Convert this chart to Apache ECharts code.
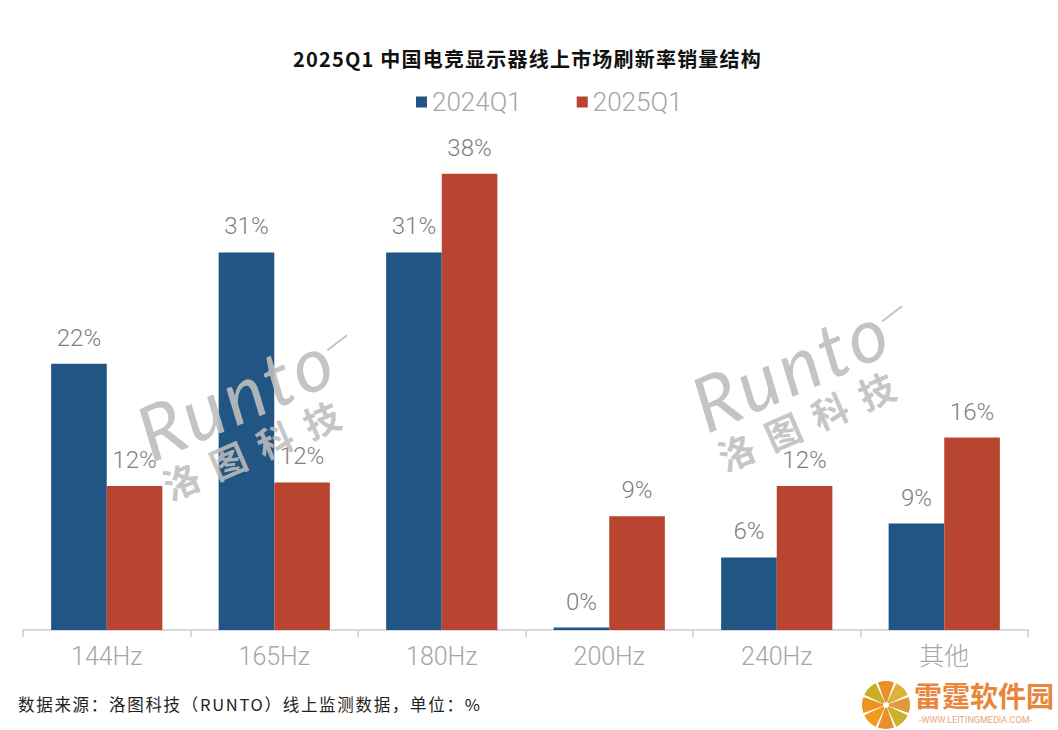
<!DOCTYPE html>
<html><head><meta charset="utf-8">
<style>html,body{margin:0;padding:0;background:#fff}#c{width:1058px;height:730px}</style>
<script src="https://cdn.jsdelivr.net/npm/echarts@6/dist/echarts.min.js"></script>
</head><body><div id="c"></div>
<script>
const categories = ['144Hz','165Hz','180Hz','200Hz','240Hz','其他'];
const series2024 = [22, 31.2, 31.2, 0.2, 6, 8.8];
const series2025 = [11.9, 12.2, 37.7, 9.4, 11.9, 15.9];
const titleText = '2025Q1 中国电竞显示器线上市场刷新率销量结构';
const sourceText = '数据来源\uFF1A洛图科技\uFF08RUNTO\uFF09线上监测数据\uFF0C单位\uFF1A%';
const cjk = '"Noto Sans CJK SC"';
const num = 'Roboto, "Noto Sans CJK SC"';
const wmColor = 'rgba(190,190,190,0.9)';

function watermark(x, y) {
  return {
    type: 'group', x: x, y: y, rotation: 0.41, silent: true,
    children: [
      {type:'text', z2:1000, x:-106, y:-60, style:{text:'Runto', font:'italic 400 76px Lato, Roboto', fill:wmColor}},
      {type:'line', z2:1000, shape:{x1:100,y1:-26,x2:124,y2:-32}, style:{stroke:wmColor, lineWidth:2}},
      {type:'text', z2:1000, x:-104, y:16, style:{text:'洛图科技', font:'bold 36px '+cjk, fill:wmColor}}
    ]
  };
}
function logoPetals(cx, cy, r) {
  const cols = ['#e2993a','#c9b12a','#e8912a','#f09a1e','#ec9320','#c8ae22','#e8912a','#d9b33a'];
  return cols.map((c,i)=>({
    type:'sector', silent:true,
    shape:{cx:cx, cy:cy, r:r, r0:3,
      startAngle: i*Math.PI/4 + 0.05 - Math.PI/8,
      endAngle: (i+1)*Math.PI/4 - 0.05 - Math.PI/8},
    style:{fill:c}
  }));
}
const labelStyle = {
  show:true, position:'top', distance:14, color:'#7f7f7f',
  fontSize:24, fontFamily:num, fontWeight:300,
  formatter: p => Math.round(p.value) + '%'
};
const chart = echarts.init(document.getElementById('c'), null, {renderer:'svg', width:1058, height:730});
chart.setOption({
  animation:false,
  backgroundColor:'#fff',
  title:{text:titleText, left:288, top:43, textStyle:{fontFamily:cjk, fontSize:20, fontWeight:'bold', color:'#111'}},
  legend:{
    left:411, top:84, itemWidth:11, itemHeight:11, itemGap:55, icon:'rect',
    textStyle:{color:'#a6a6a6', fontSize:26, fontFamily:num, fontWeight:300}
  },
  grid:{left:23, right:30, top:146, bottom:100},
  xAxis:{
    type:'category', data:categories,
    axisLine:{lineStyle:{color:'#d9d9d9', width:2}},
    axisTick:{show:true, length:7, lineStyle:{color:'#d9d9d9', width:2}},
    axisLabel:{color:'#a6a6a6', fontSize:25, margin:14, fontFamily:num, fontWeight:300}
  },
  yAxis:{type:'value', min:0, max:40, show:false, splitLine:{show:false}},
  series:[
    {name:'2024Q1', type:'bar', z:0, data:series2024, barWidth:'33.2%', barGap:0, itemStyle:{color:'#215583'}, label:labelStyle},
    {name:'2025Q1', type:'bar', z:0, data:series2025, barWidth:'33.2%', barGap:0, itemStyle:{color:'#b94430'}, label:labelStyle}
  ],
  graphic:{
    elements:[
      watermark(246,414), watermark(801,385),
      {type:'text', x:18, y:696, style:{text:sourceText, font:'16.5px '+cjk, fill:'#222'}},
      ...logoPetals(886,705,24),
      {type:'text', x:914, y:681, style:{text:'雷霆软件园', font:'bold 28px '+cjk, fill:'#e8863c'}},
      {type:'text', x:919, y:715, style:{text:'-WWW.LEITINGMEDIA.COM-', font:'9px Roboto', fill:'#e8a67a'}}
    ]
  }
});
function spacing(){
  document.querySelectorAll('#c text').forEach(t=>{
    const s=t.textContent;
    if(s===titleText) t.style.letterSpacing='1.2px';
    if(s===sourceText) t.style.letterSpacing='1.7px';
    if(s==='洛图科技') t.style.letterSpacing='15px';
    if(s==='Runto') t.style.letterSpacing='4px';
  });
}
spacing();
chart.on('finished',spacing);
</script></body></html>
